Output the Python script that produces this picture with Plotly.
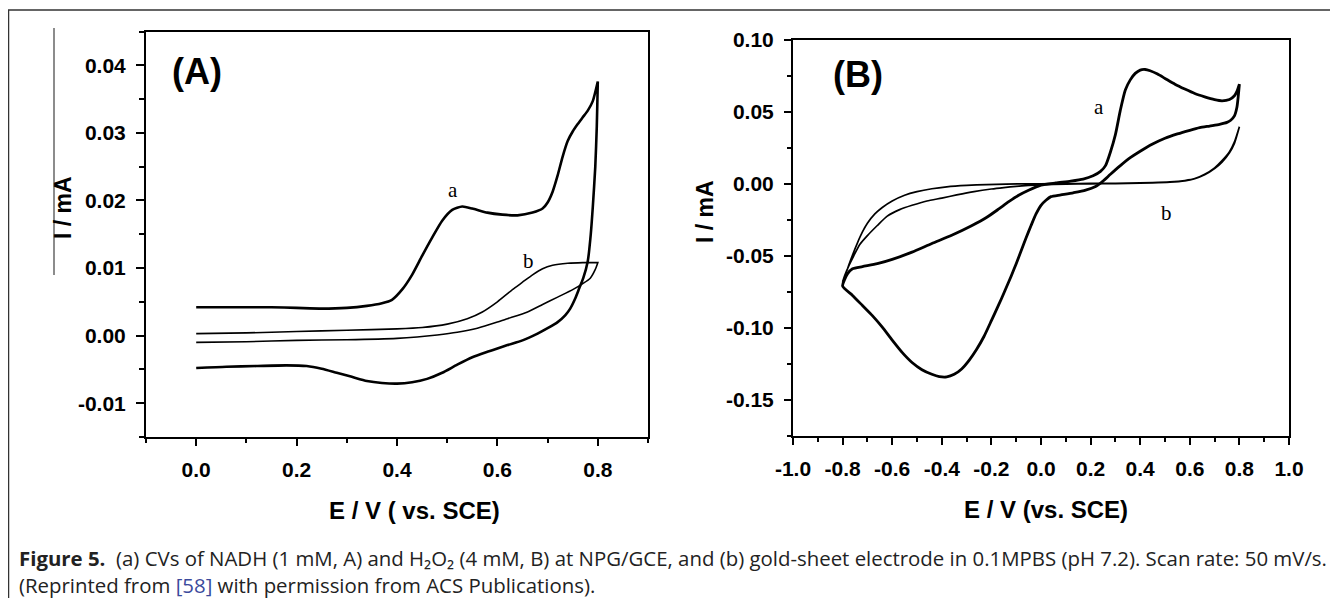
import plotly.graph_objects as go

# The page body has the browser's default 8px margin, so the figure is drawn 8px smaller
# and every target pixel position is shifted by that offset.
OFF = 8
W, H = 1338 - OFF, 598 - OFF

# ---------------- Panel A data (E / V, I / mA) ----------------
A_a_fwd_E = [0.00, 0.05, 0.10, 0.15, 0.20, 0.25, 0.30, 0.34, 0.37, 0.39, 0.41, 0.43, 0.45, 0.47, 0.49,
             0.51, 0.53, 0.55, 0.58, 0.61, 0.64, 0.67, 0.69, 0.70, 0.71, 0.72, 0.73, 0.74, 0.75, 0.76,
             0.77, 0.78, 0.79, 0.80]
A_a_fwd_I = [0.0042, 0.0042, 0.0042, 0.0042, 0.0041, 0.0040, 0.0041, 0.0044, 0.0048, 0.0053, 0.0068,
             0.0090, 0.0118, 0.0145, 0.0170, 0.0186, 0.0191, 0.0188, 0.0182, 0.0179, 0.0178, 0.0182,
             0.0188, 0.0197, 0.0213, 0.0237, 0.0265, 0.0288, 0.0302, 0.0313, 0.0323, 0.0333, 0.0347, 0.0376]
A_a_rev_E = [0.80, 0.798, 0.795, 0.79, 0.786, 0.78, 0.771, 0.763, 0.755, 0.745, 0.735, 0.72, 0.70, 0.68,
             0.65, 0.62, 0.60, 0.58, 0.55, 0.52, 0.49, 0.46, 0.43, 0.40, 0.37, 0.34, 0.31, 0.28, 0.25,
             0.22, 0.18, 0.12, 0.06, 0.00]
A_a_rev_I = [0.0376, 0.0310, 0.0250, 0.0190, 0.0150, 0.0110, 0.0085, 0.0070, 0.0055, 0.0040, 0.0030,
             0.0020, 0.0011, 0.0003, -0.0007, -0.0014, -0.0019, -0.0024, -0.0032, -0.0043, -0.0055,
             -0.0064, -0.0069, -0.0071, -0.0070, -0.0067, -0.0061, -0.0055, -0.0049, -0.0045, -0.0044,
             -0.0045, -0.0046, -0.0048]

A_b_fwd_E = [0.00, 0.10, 0.20, 0.30, 0.40, 0.45, 0.50, 0.54, 0.57, 0.60, 0.63, 0.65, 0.67, 0.69, 0.71,
             0.74, 0.77, 0.80]
A_b_fwd_I = [0.0003, 0.0004, 0.0006, 0.0008, 0.0010, 0.0012, 0.0017, 0.0025, 0.0035, 0.0050, 0.0068,
             0.0079, 0.0090, 0.0099, 0.0104, 0.0107, 0.0108, 0.0108]
A_b_rev_E = [0.80, 0.795, 0.785, 0.77, 0.75, 0.72, 0.69, 0.66, 0.62, 0.60, 0.56, 0.52, 0.48, 0.44, 0.40,
             0.30, 0.20, 0.10, 0.00]
A_b_rev_I = [0.0108, 0.0098, 0.0085, 0.0077, 0.0068, 0.0057, 0.0046, 0.0035, 0.0025, 0.0020, 0.0011,
             0.0005, 0.0001, -0.0002, -0.0004, -0.0006, -0.0007, -0.0009, -0.0010]

# ---------------- Panel B data ----------------
B_a_fwd_E = [-0.80, -0.78, -0.76, -0.72, -0.66, -0.60, -0.52, -0.44, -0.36, -0.28, -0.22, -0.17, -0.13,
             -0.09, -0.05, 0.00, 0.06, 0.12, 0.17, 0.21, 0.24, 0.26, 0.28, 0.30, 0.32, 0.34, 0.36, 0.38,
             0.40, 0.42, 0.44, 0.47, 0.50, 0.54, 0.58, 0.62, 0.66, 0.70, 0.73, 0.76, 0.78, 0.79, 0.80]
B_a_fwd_I = [-0.0710, -0.0625, -0.0590, -0.0575, -0.0555, -0.0525, -0.0475, -0.0415, -0.0358, -0.0292,
             -0.0235, -0.0175, -0.0125, -0.0080, -0.0045, -0.0010, 0.0005, 0.0018, 0.0032, 0.0055,
             0.0085, 0.0125, 0.0220, 0.0340, 0.0510, 0.0650, 0.0720, 0.0765, 0.0788, 0.0792, 0.0783,
             0.0760, 0.0730, 0.0690, 0.0656, 0.0625, 0.0602, 0.0583, 0.0575, 0.0584, 0.0610, 0.0640, 0.0690]
B_a_rev_E = [0.80, 0.795, 0.79, 0.78, 0.765, 0.75, 0.72, 0.68, 0.64, 0.60, 0.55, 0.50, 0.45, 0.40, 0.36,
             0.32, 0.28, 0.25, 0.22, 0.18, 0.13, 0.08, 0.04, 0.02, 0.00, -0.02, -0.04, -0.06, -0.08,
             -0.10, -0.12, -0.14, -0.16, -0.18, -0.20, -0.23, -0.26, -0.29, -0.32, -0.35, -0.38, -0.41,
             -0.44, -0.48, -0.52, -0.56, -0.60, -0.64, -0.68, -0.72, -0.76, -0.80]
B_a_rev_I = [0.0690, 0.0600, 0.0530, 0.0470, 0.0440, 0.0425, 0.0412, 0.0400, 0.0388, 0.0370, 0.0345,
             0.0315, 0.0275, 0.0225, 0.0180, 0.0125, 0.0065, 0.0018, -0.0020, -0.0045, -0.0063,
             -0.0078, -0.0090, -0.0115, -0.0150, -0.0210, -0.0290, -0.0375, -0.0465, -0.0555, -0.0640,
             -0.0720, -0.0800, -0.0875, -0.0950, -0.1060, -0.1150, -0.1225, -0.1285, -0.1322, -0.1340,
             -0.1338, -0.1322, -0.1290, -0.1240, -0.1170, -0.1085, -0.0995, -0.0915, -0.0845, -0.0775,
             -0.0710]

B_b_fwd_E = [-0.80, -0.79, -0.775, -0.76, -0.74, -0.72, -0.70, -0.67, -0.64, -0.60, -0.55, -0.50, -0.44,
             -0.38, -0.30, -0.22, -0.14, -0.05, 0.05, 0.15, 0.25, 0.35, 0.45, 0.52, 0.58, 0.62, 0.66,
             0.70, 0.73, 0.76, 0.78, 0.80]
B_b_fwd_I = [-0.0690, -0.0640, -0.0565, -0.0495, -0.0410, -0.0335, -0.0275, -0.0210, -0.0165, -0.0120,
             -0.0080, -0.0055, -0.0035, -0.0022, -0.0012, -0.0006, -0.0003, -0.0001, 0.0000, 0.0001,
             0.0002, 0.0004, 0.0007, 0.0012, 0.0022, 0.0035, 0.0065, 0.0110, 0.0160, 0.0222, 0.0290, 0.0395]
B_b_rev_E = [0.80, 0.78, 0.76, 0.73, 0.70, 0.66, 0.62, 0.58, 0.52, 0.45, 0.35, 0.25, 0.15, 0.05, 0.00,
             -0.05, -0.10, -0.15, -0.20, -0.27, -0.34, -0.40, -0.46, -0.52, -0.57, -0.62, -0.66, -0.70,
             -0.73, -0.755, -0.775, -0.79, -0.80]
B_b_rev_I = [0.0395, 0.0280, 0.0215, 0.0150, 0.0105, 0.0062, 0.0035, 0.0020, 0.0010, 0.0005, 0.0002,
             0.0000, -0.0002, -0.0005, -0.0008, -0.0012, -0.0018, -0.0027, -0.0037, -0.0055, -0.0078,
             -0.0100, -0.0120, -0.0150, -0.0180, -0.0225, -0.0290, -0.0360, -0.0420, -0.0500, -0.0570,
             -0.0630, -0.0680]

# ---------------- Tick labels ----------------
A_xtick_vals = [0.0, 0.2, 0.4, 0.6, 0.8]
A_xtick_text = ["0.0", "0.2", "0.4", "0.6", "0.8"]
A_ytick_vals = [-0.01, 0.0, 0.01, 0.02, 0.03, 0.04]
A_ytick_text = ["-0.01", "0.00", "0.01", "0.02", "0.03", "0.04"]
B_xtick_vals = [-1.0, -0.8, -0.6, -0.4, -0.2, 0.0, 0.2, 0.4, 0.6, 0.8, 1.0]
B_xtick_text = ["-1.0", "-0.8", "-0.6", "-0.4", "-0.2", "0.0", "0.2", "0.4", "0.6", "0.8", "1.0"]
B_ytick_vals = [-0.15, -0.10, -0.05, 0.0, 0.05, 0.10]
B_ytick_text = ["-0.15", "-0.10", "-0.05", "0.00", "0.05", "0.10"]

caption_line1 = ("<b>Figure 5.</b>  (a) CVs of NADH (1 mM, A) and H\u2082O\u2082 (4 mM, B) "
                 "at NPG/GCE, and (b) gold-sheet electrode in 0.1MPBS (pH 7.2). Scan rate: 50 mV/s.")
caption_line2 = ("(Reprinted from <span style='color:#3b4a9c'>[58]</span> with permission from "
                 "ACS Publications).")

# ---------------- Figure ----------------
def px_x(p):
    return (p - OFF) / W

def px_y(p):
    return 1 - (p - OFF) / H

fig = go.Figure()

fig.add_trace(go.Scatter(x=A_a_fwd_E + A_a_rev_E, y=A_a_fwd_I + A_a_rev_I, mode="lines",
                         line=dict(color="black", width=2.6, shape="spline", smoothing=0.6),
                         xaxis="x", yaxis="y", showlegend=False))
fig.add_trace(go.Scatter(x=A_b_fwd_E + A_b_rev_E, y=A_b_fwd_I + A_b_rev_I, mode="lines",
                         line=dict(color="black", width=1.6, shape="spline", smoothing=0.6),
                         xaxis="x", yaxis="y", showlegend=False))
fig.add_trace(go.Scatter(x=B_a_fwd_E + B_a_rev_E, y=B_a_fwd_I + B_a_rev_I, mode="lines",
                         line=dict(color="black", width=2.8, shape="spline", smoothing=0.6),
                         xaxis="x2", yaxis="y2", showlegend=False))
fig.add_trace(go.Scatter(x=B_b_fwd_E + B_b_rev_E, y=B_b_fwd_I + B_b_rev_I, mode="lines",
                         line=dict(color="black", width=1.7, shape="spline", smoothing=0.6),
                         xaxis="x2", yaxis="y2", showlegend=False))

tickfont = dict(family="Liberation Sans, Arial", size=21, color="black", weight="bold")
common = dict(showline=True, linecolor="black", linewidth=2, mirror=True, showgrid=False,
              zeroline=False, ticks="outside", tickcolor="black", tickwidth=2, tickfont=tickfont,
              tickmode="array", fixedrange=True, automargin=False)

fig.update_layout(
    width=W, height=H, autosize=False,
    margin=dict(l=0, r=0, t=0, b=0, pad=0),
    paper_bgcolor="white", plot_bgcolor="white",
    xaxis=dict(domain=[px_x(146), px_x(648)], range=[-0.1, 0.9], anchor="y",
               tickvals=A_xtick_vals, ticktext=A_xtick_text, ticklen=7, ticklabelstandoff=6,
               minor=dict(tick0=0, dtick=0.1, ticks="outside", ticklen=4, tickwidth=2, tickcolor="black"),
               **common),
    yaxis=dict(domain=[px_y(437), px_y(31.5)], range=[-0.015, 0.045], anchor="x",
               tickvals=A_ytick_vals, ticktext=A_ytick_text, ticklen=8, ticklabelstandoff=6,
               minor=dict(tick0=0, dtick=0.005, ticks="outside", ticklen=5, tickwidth=2, tickcolor="black"),
               **common),
    xaxis2=dict(domain=[px_x(793), px_x(1289)], range=[-1.0, 1.0], anchor="y2",
                tickvals=B_xtick_vals, ticktext=B_xtick_text, ticklen=7, ticklabelstandoff=6,
                minor=dict(tick0=0, dtick=0.1, ticks="outside", ticklen=4, tickwidth=2, tickcolor="black"),
                **common),
    yaxis2=dict(domain=[px_y(436), px_y(39.5)], range=[-0.175, 0.10], anchor="x2",
                tickvals=B_ytick_vals, ticktext=B_ytick_text, ticklen=7, ticklabelstandoff=6,
                minor=dict(tick0=0, dtick=0.025, ticks="outside", ticklen=4, tickwidth=2, tickcolor="black"),
                **common),
)

bold = dict(family="Liberation Sans, Arial", color="black", weight="bold")
ctr = dict(xref="paper", yref="paper", showarrow=False, xanchor="center", yanchor="middle")
ann = []
# panel letters
ann.append(dict(text="(A)", x=px_x(197), y=px_y(72), font=dict(size=36, **bold), **ctr))
ann.append(dict(text="(B)", x=px_x(858), y=px_y(74), font=dict(size=36, **bold), **ctr))
# axis titles
ann.append(dict(text="I / mA", x=px_x(63), y=px_y(208), textangle=-90, font=dict(size=23, **bold), **ctr))
ann.append(dict(text="I / mA", x=px_x(705), y=px_y(212), textangle=-90, font=dict(size=23, **bold), **ctr))
ann.append(dict(text="E / V ( vs. SCE)", x=px_x(414), y=px_y(510), font=dict(size=24, **bold), **ctr))
ann.append(dict(text="E / V (vs. SCE)", x=px_x(1046), y=px_y(509), font=dict(size=24, **bold), **ctr))
# curve labels
serif = dict(family="Liberation Serif, Times New Roman", size=21, color="black")
dctr = dict(showarrow=False, xanchor="center", yanchor="middle")
ann.append(dict(text="a", x=0.512, y=0.0215, xref="x", yref="y", font=serif, **dctr))
ann.append(dict(text="b", x=0.662, y=0.0110, xref="x", yref="y", font=serif, **dctr))
ann.append(dict(text="a", x=0.234, y=0.0532, xref="x2", yref="y2", font=serif, **dctr))
ann.append(dict(text="b", x=0.508, y=-0.0203, xref="x2", yref="y2", font=serif, **dctr))
# caption (two lines in one text block)
capfont = dict(family="Open Sans, Noto Sans", size=20.4, color="#222222")
ann.append(dict(text=caption_line1 + "<br>" + caption_line2, x=px_x(17), y=px_y(571),
                xref="paper", yref="paper", xanchor="left", yanchor="middle", align="left",
                showarrow=False, font=capfont))
fig.update_layout(annotations=ann)

# outer frame and the stray vertical rule left of panel A
fig.add_shape(type="rect", xref="paper", yref="paper", x0=px_x(8.5), x1=1.05, y0=-0.05, y1=px_y(10),
              line=dict(color="#333333", width=1.5))
fig.add_shape(type="line", xref="paper", yref="paper", x0=px_x(54), x1=px_x(54), y0=px_y(28),
              y1=px_y(275), line=dict(color="#666666", width=1.5))

fig.write_html("out.html")
